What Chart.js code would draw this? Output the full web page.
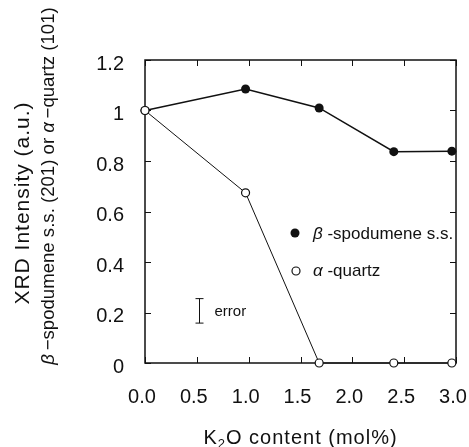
<!DOCTYPE html>
<html>
<head>
<meta charset="utf-8">
<script src="https://cdn.jsdelivr.net/npm/chart.js@4"></script>
<style>
  body { margin: 0; background: #fff; }
  canvas { display: block; }
</style>
</head>
<body>
<canvas id="chart" width="469" height="447"></canvas>
<script>
const FONT = "'Liberation Sans', Arial, sans-serif";

// K2O content (mol%) vs normalised XRD intensity
const spodX = [0, 0.97, 1.68, 2.40, 2.96];
const spodY = [1.0, 1.085, 1.01, 0.837, 0.839];
const quartzX = [0, 0.97, 1.68, 2.40, 2.96];
const quartzY = [1.0, 0.674, 0, 0, 0];

const xTickValues = [0, 0.5, 1, 1.5, 2, 2.5, 3];
const xTickLabels = ["0.0", "0.5", "1.0", "1.5", "2.0", "2.5", "3.0"];
const yTickValues = [0, 0.2, 0.4, 0.6, 0.8, 1, 1.2];
const yTickLabels = ["0", "0.2", "0.4", "0.6", "0.8", "1", "1.2"];

// the "error" bar sample
const errorX = 0.52;
const errorLow = 0.158;
const errorHigh = 0.255;

function toPoints(xs, ys) {
  return xs.map((v, i) => ({ x: v, y: ys[i] }));
}

// draw a run of text pieces, some italic, centred or left aligned
function drawRich(ctx, parts, x, y, size, align, spacing) {
  const fontOf = (p) => `${p.italic ? "italic " : ""}${p.size || size}px ${FONT}`;
  ctx.letterSpacing = (spacing || 0) + "px";
  let total = 0;
  parts.forEach((p) => {
    ctx.font = fontOf(p);
    total += ctx.measureText(p.t).width;
  });
  let cx = align === "center" ? x - total / 2 : x;
  ctx.textAlign = "left";
  ctx.textBaseline = "alphabetic";
  parts.forEach((p) => {
    ctx.font = fontOf(p);
    ctx.fillText(p.t, cx, y + (p.dy || 0));
    cx += ctx.measureText(p.t).width;
  });
  ctx.letterSpacing = "0px";
}

const framePlugin = {
  id: "frame",
  beforeDatasetsDraw(chart) {
    const { ctx, chartArea: a, scales: { x, y } } = chart;
    ctx.save();
    ctx.strokeStyle = "#111";
    ctx.lineWidth = 1.5;
    ctx.strokeRect(a.left, a.top, a.right - a.left, a.bottom - a.top);

    // inward ticks on all four sides
    const T = 6;
    ctx.lineWidth = 1;
    ctx.beginPath();
    xTickValues.forEach((v) => {
      const px = Math.round(x.getPixelForValue(v)) + 0.5;
      ctx.moveTo(px, a.bottom); ctx.lineTo(px, a.bottom - T);
      ctx.moveTo(px, a.top); ctx.lineTo(px, a.top + T);
    });
    yTickValues.forEach((v) => {
      const py = Math.round(y.getPixelForValue(v)) + 0.5;
      ctx.moveTo(a.left, py); ctx.lineTo(a.left + T, py);
      ctx.moveTo(a.right, py); ctx.lineTo(a.right - T, py);
    });
    ctx.stroke();

    // error bar
    const ex = Math.round(x.getPixelForValue(errorX)) + 0.5;
    const eTop = y.getPixelForValue(errorHigh);
    const eBot = y.getPixelForValue(errorLow);
    ctx.beginPath();
    ctx.moveTo(ex, eTop); ctx.lineTo(ex, eBot);
    ctx.moveTo(ex - 4, eTop); ctx.lineTo(ex + 4, eTop);
    ctx.moveTo(ex - 4, eBot); ctx.lineTo(ex + 4, eBot);
    ctx.stroke();
    ctx.fillStyle = "#111";
    ctx.font = `15px ${FONT}`;
    ctx.textAlign = "left";
    ctx.textBaseline = "alphabetic";
    ctx.fillText("error", ex + 15, (eTop + eBot) / 2 + 5);
    ctx.restore();
  },
  afterDraw(chart) {
    const { ctx, chartArea: a } = chart;
    ctx.save();
    ctx.fillStyle = "#111";
    ctx.strokeStyle = "#111";

    // legend
    ctx.beginPath();
    ctx.arc(a.left + 150, a.top + 173, 4.5, 0, Math.PI * 2);
    ctx.fill();
    ctx.beginPath();
    ctx.arc(a.left + 151, a.top + 211, 4, 0, Math.PI * 2);
    ctx.fillStyle = "#fff";
    ctx.fill();
    ctx.lineWidth = 1.2;
    ctx.stroke();
    ctx.fillStyle = "#111";
    drawRich(ctx, [{ t: "\u03b2", italic: true }, { t: " -spodumene s.s." }], a.left + 168, a.top + 179, 17, "left");
    drawRich(ctx, [{ t: "\u03b1", italic: true }, { t: " -quartz" }], a.left + 168, a.top + 216, 17, "left");

    // x title with subscript
    drawRich(ctx, [
      { t: "K" },
      { t: "2", size: 13, dy: 4 },
      { t: "O content (mol%)" }
    ], (a.left + a.right) / 2, 444, 20, "center", 1);

    // y titles, rotated
    ctx.save();
    ctx.translate(29, 203);
    ctx.rotate(-Math.PI / 2);
    drawRich(ctx, [{ t: "XRD Intensity (a.u.)" }], 0, 0, 21, "center", 1);
    ctx.restore();

    ctx.save();
    ctx.translate(54, 186);
    ctx.rotate(-Math.PI / 2);
    drawRich(ctx, [
      { t: "\u03b2", italic: true },
      { t: "\u2009\u2212spodumene s.s. (201) or " },
      { t: "\u03b1", italic: true },
      { t: "\u2009\u2212quartz (101)" }
    ], 0, 0, 18.6, "center");
    ctx.restore();

    ctx.restore();
  }
};

new Chart(document.getElementById("chart"), {
  type: "scatter",
  data: {
    datasets: [
      {
        label: "\u03b1-quartz",
        data: toPoints(quartzX, quartzY),
        showLine: true,
        borderColor: "#111",
        borderWidth: 1,
        pointRadius: 4,
        pointBorderWidth: 1.2,
        pointBackgroundColor: "#fff",
        pointBorderColor: "#111",
        clip: false,
        order: 1
      },
      {
        label: "\u03b2-spodumene s.s.",
        data: toPoints(spodX, spodY),
        showLine: true,
        borderColor: "#111",
        borderWidth: 1.5,
        pointRadius: 4.5,
        pointBorderWidth: 0,
        pointBackgroundColor: "#111",
        pointBorderColor: "#111",
        clip: false,
        order: 2
      }
    ]
  },
  options: {
    responsive: false,
    animation: false,
    events: [],
    layout: { padding: { top: 60, right: 13, left: 0, bottom: 0 } },
    plugins: {
      legend: { display: false },
      tooltip: { enabled: false }
    },
    scales: {
      x: {
        type: "linear",
        min: 0,
        max: 3,
        afterBuildTicks: (s) => { s.ticks = xTickValues.map((v) => ({ value: v })); },
        afterFit: (s) => { s.height = 84; s.paddingLeft = 0; s.paddingRight = 0; },
        grid: { display: false, drawTicks: false },
        border: { display: false },
        ticks: {
          color: "#111",
          font: { family: FONT, size: 20 },
          padding: 22,
          maxRotation: 0,
          labelOffset: -3,
          callback: (v, i) => xTickLabels[i]
        }
      },
      y: {
        type: "linear",
        min: 0,
        max: 1.2,
        afterBuildTicks: (s) => { s.ticks = yTickValues.map((v) => ({ value: v })); },
        afterFit: (s) => { s.width = 145; s.paddingTop = 0; s.paddingBottom = 0; },
        grid: { display: false, drawTicks: false },
        border: { display: false },
        ticks: {
          color: "#111",
          font: { family: FONT, size: 20 },
          padding: 21,
          labelOffset: 4,
          callback: (v, i) => yTickLabels[i]
        }
      }
    }
  },
  plugins: [framePlugin]
});
</script>
</body>
</html>
